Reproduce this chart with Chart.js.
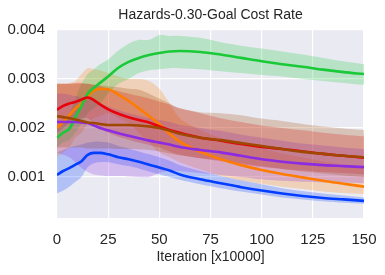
<!DOCTYPE html>
<html>
<head>
<meta charset="utf-8">
<script src="https://cdn.jsdelivr.net/npm/chart.js@4.4.0/dist/chart.umd.min.js"></script>
<style>
  html, body { margin: 0; padding: 0; background: #ffffff; }
  #wrap { width: 385px; height: 275px; }
</style>
</head>
<body>
<div id="wrap"><canvas id="costChart" width="385" height="275"></canvas></div>
<script>
// Iteration positions (x10000)
const iterations = [0, 3, 6, 9, 12, 15, 18, 21, 25, 30, 35, 40, 45, 50, 55, 60, 70, 80, 90, 100, 110, 120, 130, 140, 150];

const blueMean  = [0.00104, 0.00112, 0.00118, 0.00125, 0.00132, 0.00145, 0.00149, 0.00149, 0.00146, 0.0014, 0.00136, 0.00131, 0.00125, 0.00119, 0.00113, 0.00105, 0.00095, 0.00087, 0.00079, 0.00072, 0.00066, 0.00061, 0.00057, 0.00054, 0.00051];
const blueUpper = [0.0015, 0.00155, 0.0016, 0.00163, 0.00166, 0.0017, 0.00172, 0.00172, 0.0017, 0.00163, 0.00158, 0.00152, 0.00146, 0.0014, 0.00133, 0.00124, 0.00112, 0.00102, 0.00093, 0.00085, 0.00077, 0.00071, 0.00066, 0.00062, 0.00058];
const blueLower = [0.00066, 0.00072, 0.0008, 0.0009, 0.001, 0.0012, 0.00128, 0.0013, 0.0013, 0.00126, 0.00122, 0.00117, 0.00111, 0.00105, 0.001, 0.00094, 0.00085, 0.00077, 0.0007, 0.00064, 0.00058, 0.00054, 0.0005, 0.00047, 0.00045];

const orangeMean  = [0.002, 0.00212, 0.00226, 0.0024, 0.0025, 0.00265, 0.00276, 0.0028, 0.00279, 0.00268, 0.00255, 0.0024, 0.00224, 0.00208, 0.00188, 0.00172, 0.00151, 0.00136, 0.00124, 0.00114, 0.00106, 0.00099, 0.00092, 0.00086, 0.0008];
const orangeUpper = [0.0029, 0.0029, 0.00292, 0.00296, 0.0031, 0.00322, 0.0032, 0.00318, 0.00312, 0.00305, 0.003, 0.003, 0.00296, 0.0028, 0.0025, 0.0022, 0.00196, 0.0018, 0.00168, 0.00158, 0.00148, 0.0014, 0.00132, 0.00125, 0.0012];
const orangeLower = [0.0014, 0.0015, 0.0016, 0.0018, 0.0019, 0.0021, 0.0022, 0.00225, 0.0023, 0.0022, 0.0021, 0.0019, 0.0017, 0.0015, 0.0014, 0.0013, 0.00115, 0.00102, 0.00093, 0.00086, 0.0008, 0.00075, 0.0007, 0.00067, 0.00065];

const greenMean  = [0.0018, 0.0019, 0.00198, 0.00222, 0.00245, 0.0027, 0.00282, 0.00292, 0.00305, 0.00323, 0.00335, 0.00343, 0.00349, 0.00353, 0.00356, 0.00357, 0.00355, 0.0035, 0.00343, 0.00336, 0.0033, 0.00325, 0.00319, 0.00314, 0.0031];
const greenUpper = [0.002, 0.0021, 0.0023, 0.0026, 0.0029, 0.0031, 0.0032, 0.0033, 0.0034, 0.00358, 0.00372, 0.0038, 0.0038, 0.0039, 0.00388, 0.00388, 0.00384, 0.00375, 0.00368, 0.00362, 0.00356, 0.0035, 0.00343, 0.00336, 0.0033];
const greenLower = [0.0016, 0.0017, 0.00175, 0.0019, 0.0021, 0.0023, 0.0024, 0.0025, 0.0027, 0.0029, 0.003, 0.00312, 0.00318, 0.0032, 0.00322, 0.00322, 0.0032, 0.00316, 0.00312, 0.00308, 0.00305, 0.003, 0.00296, 0.00292, 0.00288];

const redMean  = [0.00237, 0.00245, 0.0025, 0.00253, 0.00258, 0.00262, 0.00257, 0.00248, 0.00238, 0.00229, 0.00222, 0.00216, 0.00211, 0.00203, 0.00196, 0.0019, 0.0018, 0.00174, 0.00167, 0.00161, 0.00157, 0.00152, 0.00147, 0.00143, 0.00139];
const redUpper = [0.0029, 0.0029, 0.0029, 0.00292, 0.00292, 0.0029, 0.00288, 0.00285, 0.0028, 0.00275, 0.0027, 0.00265, 0.0026, 0.00254, 0.00248, 0.0024, 0.0023, 0.0022, 0.00212, 0.00205, 0.002, 0.00195, 0.0019, 0.00186, 0.00183];
const redLower = [0.0019, 0.002, 0.0021, 0.00212, 0.0022, 0.0022, 0.0021, 0.002, 0.0019, 0.00182, 0.00176, 0.0017, 0.00165, 0.0016, 0.00152, 0.00145, 0.00138, 0.00132, 0.00126, 0.0012, 0.00116, 0.00113, 0.0011, 0.00108, 0.00105];

const purpleMean  = [0.00212, 0.00212, 0.00212, 0.00212, 0.00211, 0.0021, 0.00205, 0.002, 0.00195, 0.00189, 0.00184, 0.00179, 0.00174, 0.0017, 0.00166, 0.00161, 0.00155, 0.0015, 0.00143, 0.00136, 0.00131, 0.00127, 0.00124, 0.00122, 0.0012];
const purpleUpper = [0.0027, 0.0027, 0.00268, 0.00265, 0.00262, 0.0026, 0.00256, 0.0025, 0.00244, 0.00236, 0.0023, 0.00225, 0.0022, 0.00216, 0.00212, 0.00206, 0.002, 0.00194, 0.00186, 0.0018, 0.00174, 0.00168, 0.00164, 0.0016, 0.00157];
const purpleLower = [0.0015, 0.00145, 0.0014, 0.0013, 0.00118, 0.0011, 0.00105, 0.00103, 0.00102, 0.00102, 0.00101, 0.001, 0.001, 0.00108, 0.00112, 0.00112, 0.00108, 0.00104, 0.001, 0.00095, 0.00092, 0.0009, 0.00089, 0.00088, 0.00087];

const brownMean  = [0.00224, 0.00222, 0.0022, 0.00217, 0.00214, 0.00211, 0.0021, 0.00208, 0.00206, 0.00206, 0.00206, 0.00205, 0.00203, 0.002, 0.00194, 0.00188, 0.0018, 0.00175, 0.00169, 0.00163, 0.00157, 0.00151, 0.00147, 0.00143, 0.0014];
const brownUpper = [0.0029, 0.0029, 0.0029, 0.0029, 0.0029, 0.0029, 0.00288, 0.00287, 0.00285, 0.00283, 0.0028, 0.00278, 0.0027, 0.0026, 0.0025, 0.0024, 0.00232, 0.0023, 0.00226, 0.00219, 0.00214, 0.00208, 0.00203, 0.00199, 0.00196];
const brownLower = [0.0016, 0.0016, 0.0016, 0.0016, 0.0016, 0.00158, 0.00158, 0.00158, 0.00158, 0.00157, 0.00157, 0.00156, 0.00155, 0.00152, 0.00148, 0.00144, 0.00138, 0.00134, 0.00128, 0.00122, 0.00116, 0.00111, 0.00107, 0.00103, 0.001];

const xTicks = [0, 25, 50, 75, 100, 125, 150];
const yTicks = [0.001, 0.002, 0.003, 0.004];
const chartTitle = 'Hazards-0.30-Goal Cost Rate';

// series in plotting order (later ones drawn on top)
const series = [
    { color: '2, 62, 255',   mean: blueMean,   upper: blueUpper,   lower: blueLower },
    { color: '255, 124, 0',  mean: orangeMean, upper: orangeUpper, lower: orangeLower },
    { color: '26, 201, 56',  mean: greenMean,  upper: greenUpper,  lower: greenLower },
    { color: '232, 0, 11',   mean: redMean,    upper: redUpper,    lower: redLower },
    { color: '139, 43, 226', mean: purpleMean, upper: purpleUpper, lower: purpleLower },
    { color: '159, 72, 0',   mean: brownMean,  upper: brownUpper,  lower: brownLower }
];

function toPoints(values) {
    return values.map((v, i) => ({ x: iterations[i], y: v }));
}

const datasets = [];
series.forEach((s, k) => {
    // band: upper filled down to the next dataset (lower)
    datasets.push({
        data: toPoints(s.upper),
        borderWidth: 0,
        pointRadius: 0,
        tension: 0.3,
        backgroundColor: `rgba(${s.color}, 0.24)`,
        fill: '+1',
        order: 100 - k
    });
    datasets.push({
        data: toPoints(s.lower),
        borderWidth: 0,
        pointRadius: 0,
        tension: 0.3,
        fill: false,
        order: 100 - k
    });
});
series.forEach((s, k) => {
    datasets.push({
        data: toPoints(s.mean),
        borderColor: `rgb(${s.color})`,
        borderWidth: 2.6,
        pointRadius: 0,
        cubicInterpolationMode: 'monotone',
        fill: false,
        order: 10 - k
    });
});

const fontFamily = '"Liberation Sans", Arial, sans-serif';

// grey plot background like seaborn darkgrid, title centred over the plot
const plotBackground = {
    id: 'plotBackground',
    beforeDraw(chart) {
        const a = chart.chartArea;
        const c = chart.ctx;
        c.save();
        c.fillStyle = '#eaeaf2';
        c.fillRect(a.left, a.top, a.right - a.left, a.bottom - a.top);
        c.restore();
    },
    afterDraw(chart) {
        const a = chart.chartArea;
        const c = chart.ctx;
        c.save();
        c.fillStyle = '#262626';
        c.font = '14px ' + fontFamily;
        c.textAlign = 'center';
        c.textBaseline = 'middle';
        c.fillText(chartTitle, (a.left + a.right) / 2, 15);
        c.restore();
    }
};

const ctx = document.getElementById('costChart').getContext('2d');
const costChart = new Chart(ctx, {
    type: 'line',
    data: { datasets: datasets },
    options: {
        responsive: false,
        animation: false,
        layout: { padding: { left: 0, right: 21, top: 30, bottom: 0 } },
        plugins: {
            legend: { display: false },
            tooltip: { enabled: false },
            title: { display: false }
        },
        scales: {
            x: {
                type: 'linear',
                min: 0,
                max: 150,
                afterBuildTicks: (scale) => { scale.ticks = xTicks.map(v => ({ value: v })); },
                afterFit: (scale) => {
                    scale.height = 57;
                    scale.paddingLeft = 0;
                    scale.paddingRight = 0;
                },
                grid: { color: '#ffffff', lineWidth: 1.2, drawTicks: false },
                border: { display: false },
                ticks: {
                    color: '#262626',
                    padding: 13,
                    maxRotation: 0,
                    font: { family: fontFamily, size: 15 }
                },
                title: {
                    display: true,
                    text: 'Iteration [x10000]',
                    color: '#262626',
                    font: { family: fontFamily, size: 14 },
                    padding: { top: 0, bottom: 9 }
                }
            },
            y: {
                min: 0.00016,
                max: 0.004,
                afterBuildTicks: (scale) => { scale.ticks = yTicks.map(v => ({ value: v })); },
                afterFit: (scale) => {
                    scale.width = 57;
                    scale.paddingTop = 0;
                    scale.paddingBottom = 0;
                },
                grid: { color: '#ffffff', lineWidth: 1.2, drawTicks: false },
                border: { display: false },
                ticks: {
                    color: '#262626',
                    padding: 12,
                    font: { family: fontFamily, size: 15 },
                    callback: (v) => v.toFixed(3)
                }
            }
        }
    },
    plugins: [plotBackground]
});
</script>
</body>
</html>
